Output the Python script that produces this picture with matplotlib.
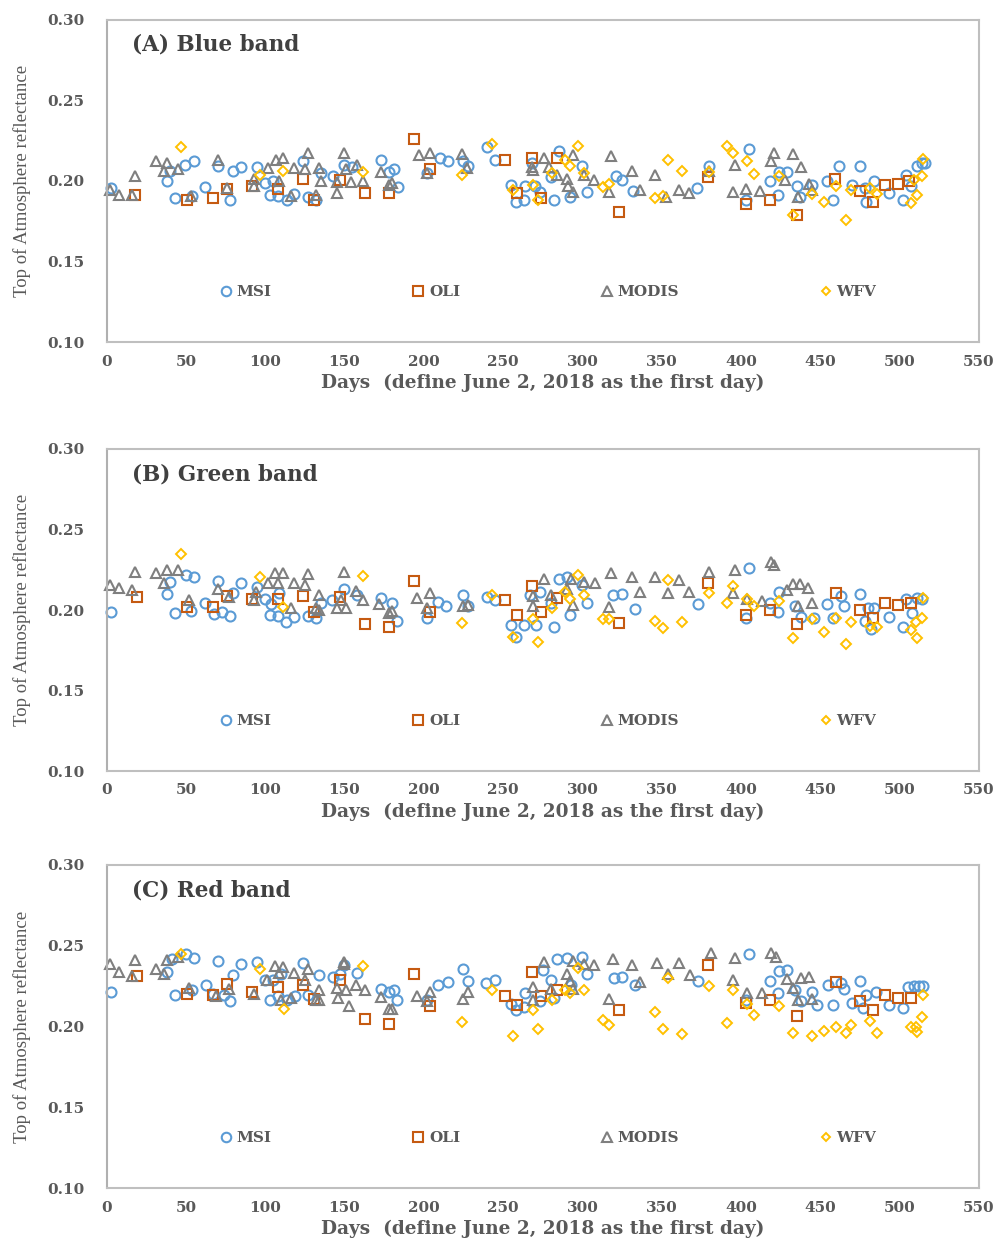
import matplotlib
matplotlib.use("Agg")
import matplotlib.pyplot as plt
from matplotlib.lines import Line2D

# ---------------- data: (day, TOA reflectance) ----------------
A_MSI = [(3,0.1955),(38,0.1996),(40,0.2058),(43,0.1893),(49.5,0.2099),(54,0.1903),(55,0.212),(62,0.1961),(70,0.2093),(78,0.1882),(80,0.2058),(85,0.2085),(95,0.2083),(100,0.1986),(103,0.1913),(105,0.1996),(108,0.1903),(114,0.1882),(118,0.1919),(124,0.212),(127,0.1899),(132,0.1882),(135,0.2048),(143,0.2031),(150,0.2099),(155,0.2083),(173,0.213),(178,0.2052),(181,0.2073),(184,0.1961),(202,0.2048),(210,0.2141),(215,0.2124),(225,0.212),(228,0.2089),(240,0.2207),(245,0.2126),(255,0.1971),(258,0.1871),(263,0.1882),(264,0.1965),(268,0.211),(270,0.1965),(273,0.1928),(280,0.2023),(282,0.1882),(285,0.2182),(292,0.1899),(300,0.2089),(303,0.1928),(321,0.2027),(325,0.2006),(332,0.1934),(372,0.1955),(380,0.2089),(403,0.1878),(405,0.2196),(418,0.2000),(423,0.1913),(424,0.2052),(429,0.2052),(435,0.1969),(437,0.1899),(445,0.1975),(454,0.1996),(458,0.1882),(462,0.2089),(470,0.1975),(475,0.2089),(478,0.1955),(479,0.1871),(484,0.1996),(493,0.1924),(502,0.1878),(504,0.2037),(507,0.1965),(511,0.2089),(514,0.2110),(516,0.2110)]
A_OLI = [(18,0.1911),(51,0.1882),(67,0.1893),(76,0.1950),(92,0.1965),(108,0.1950),(124,0.2011),(131,0.1882),(147,0.2006),(163,0.1924),(178,0.1924),(194,0.2256),(204,0.2074),(251,0.2126),(259,0.1924),(268,0.214),(274,0.1893),(284,0.2141),(323,0.1809),(379,0.2023),(403,0.1857),(418,0.1882),(435,0.1789),(459,0.2011),(475,0.1934),(483,0.1871),(491,0.1971),(499,0.1981),(506,0.1996)]
A_MODIS = [(2,0.1944),(8,0.1913),(16,0.191),(18,0.2027),(31,0.212),(36,0.2058),(38,0.211),(45,0.2074),(53,0.1907),(70,0.213),(76,0.1955),(93,0.1965),(93,0.2012),(102,0.2077),(107,0.213),(111,0.2144),(109,0.1996),(116,0.1906),(118,0.2077),(125,0.2074),(127,0.2171),(132,0.1913),(134,0.2077),(135,0.1996),(145,0.1924),(145,0.199),(150,0.2171),(151,0.2074),(154,0.199),(158,0.2095),(162,0.1996),(173,0.2052),(178,0.1975),(180,0.1986),(197,0.2161),(204,0.2171),(202,0.2051),(224,0.2167),(227,0.2078),(268,0.2085),(269,0.2066),(276,0.2141),(279,0.2087),(284,0.2038),(290,0.2012),(294,0.2161),(291,0.1965),(294,0.1928),(301,0.2038),(307,0.2005),(317,0.1928),(318,0.2151),(331,0.2058),(336,0.194),(346,0.2038),(353,0.1902),(361,0.194),(367,0.1924),(380,0.2058),(395,0.1928),(396,0.2095),(403,0.1948),(412,0.1934),(419,0.212),(421,0.2171),(428,0.2005),(433,0.2165),(436,0.1902),(438,0.2085),(443,0.1981),(445,0.1944)]
A_WFV = [(47,0.2207),(97,0.2037),(111,0.2058),(162,0.2052),(224,0.2037),(243,0.2227),(256,0.194),(269,0.1975),(272,0.1882),(281,0.2048),(289,0.2126),(292,0.2089),(297,0.2213),(301,0.2048),(313,0.1961),(317,0.1981),(346,0.1893),(351,0.1903),(354,0.2126),(363,0.2062),(380,0.2052),(391,0.2213),(395,0.2171),(404,0.212),(408,0.2041),(424,0.2027),(433,0.1789),(445,0.1919),(452,0.1871),(460,0.1965),(466,0.1757),(469,0.1944),(481,0.1955),(486,0.1919),(507,0.1864),(509,0.2006),(511,0.1913),(514,0.2031),(515,0.2134)]

B_MSI = [(3,0.1990),(38,0.2099),(40,0.2176),(43,0.1983),(50,0.2217),(53,0.1996),(55,0.2207),(62,0.2042),(68,0.1975),(70,0.2182),(73,0.1990),(78,0.1963),(80,0.2108),(85,0.2166),(95,0.2145),(100,0.2066),(103,0.1969),(104,0.2037),(109,0.2104),(108,0.1963),(113,0.1927),(118,0.1958),(127,0.1963),(132,0.1948),(135,0.2045),(142,0.2062),(150,0.2128),(158,0.2093),(173,0.2072),(180,0.2045),(183,0.1934),(202,0.1948),(209,0.2052),(214,0.2025),(225,0.2093),(228,0.2025),(240,0.2083),(245,0.2062),(255,0.1907),(258,0.1830),(263,0.1907),(267,0.2093),(271,0.1907),(273,0.2114),(280,0.2042),(282,0.1897),(285,0.2191),(290,0.2203),(292,0.1969),(300,0.2155),(303,0.2045),(319,0.2093),(325,0.2099),(333,0.2004),(373,0.2037),(403,0.1948),(405,0.2259),(418,0.2045),(423,0.1990),(424,0.2114),(434,0.2025),(438,0.1955),(446,0.1948),(454,0.2037),(458,0.1948),(463,0.2087),(465,0.2025),(475,0.2099),(478,0.1934),(480,0.2010),(482,0.1880),(484,0.2010),(493,0.1955),(502,0.1892),(504,0.2066),(508,0.1980),(511,0.2072),(514,0.2066)]
B_OLI = [(19,0.2079),(51,0.2017),(67,0.2021),(76,0.2087),(92,0.2068),(108,0.2068),(124,0.2089),(131,0.1990),(147,0.2083),(163,0.1911),(178,0.1897),(194,0.2180),(204,0.1990),(251,0.2062),(259,0.1969),(268,0.2149),(274,0.1990),(284,0.2072),(323,0.1921),(379,0.2170),(403,0.1969),(418,0.2000),(435,0.1911),(460,0.2108),(475,0.2000),(483,0.1948),(491,0.2042),(499,0.2031),(507,0.2042)]
B_MODIS = [(2,0.2155),(8,0.2135),(16,0.2124),(18,0.2238),(31,0.2228),(36,0.2170),(38,0.2248),(45,0.2248),(52,0.2062),(70,0.2128),(77,0.2083),(93,0.2062),(94,0.2114),(102,0.2170),(106,0.2232),(111,0.2228),(108,0.2166),(116,0.2010),(118,0.2166),(125,0.2155),(127,0.2222),(132,0.2010),(134,0.2000),(134,0.2093),(145,0.2010),(148,0.2062),(150,0.2238),(151,0.2010),(157,0.2118),(162,0.2062),(172,0.2037),(178,0.1983),(180,0.1995),(196,0.2072),(204,0.2103),(202,0.2010),(225,0.2025),(228,0.2031),(269,0.2087),(269,0.2025),(276,0.2191),(280,0.2093),(290,0.2128),(294,0.2031),(293,0.2191),(301,0.2176),(308,0.2166),(317,0.2017),(318,0.2228),(331,0.2207),(336,0.2114),(346,0.2207),(354,0.2107),(361,0.2186),(367,0.2114),(380,0.2238),(395,0.2107),(396,0.2248),(404,0.2066),(413,0.2058),(419,0.2300),(421,0.2280),(429,0.2124),(433,0.2161),(436,0.2025),(437,0.2161),(442,0.2135),(445,0.2042)]
B_WFV = [(47,0.2348),(97,0.2203),(111,0.2017),(162,0.2213),(224,0.1917),(243,0.2093),(256,0.1834),(269,0.1942),(272,0.1803),(281,0.2014),(289,0.2114),(292,0.2066),(297,0.2217),(301,0.2093),(313,0.1942),(317,0.1942),(346,0.1934),(351,0.1886),(354,0.2186),(363,0.1927),(380,0.2104),(391,0.2045),(395,0.2149),(404,0.2066),(408,0.2025),(424,0.2058),(433,0.1824),(445,0.1942),(452,0.1865),(460,0.1948),(466,0.1789),(469,0.1927),(481,0.1901),(486,0.1892),(507,0.1876),(510,0.1927),(511,0.1824),(514,0.1948),(515,0.2072)]

C_MSI = [(3,0.2212),(38,0.2336),(41,0.2419),(43,0.2192),(50,0.2446),(54,0.2229),(55,0.2425),(63,0.2260),(67,0.2204),(70,0.2404),(74,0.2192),(78,0.2157),(80,0.2316),(85,0.2390),(95,0.2398),(100,0.2287),(103,0.2167),(105,0.2291),(110,0.2322),(108,0.2188),(114,0.2163),(119,0.2188),(124,0.2394),(127,0.2192),(134,0.2316),(143,0.2308),(147,0.2322),(150,0.2378),(158,0.2332),(173,0.2233),(178,0.2212),(181,0.2225),(183,0.2161),(202,0.2167),(209,0.2260),(215,0.2274),(225,0.2359),(228,0.2281),(239,0.2271),(245,0.2291),(255,0.2142),(258,0.2105),(263,0.2122),(264,0.2209),(273,0.2157),(275,0.2349),(280,0.2291),(282,0.2178),(284,0.2415),(290,0.2425),(293,0.2254),(300,0.2432),(303,0.2322),(320,0.2302),(325,0.2308),(333,0.2260),(373,0.2281),(403,0.2167),(405,0.2446),(418,0.2281),(423,0.2209),(424,0.2342),(429,0.2349),(434,0.2229),(438,0.2157),(445,0.2212),(448,0.2136),(455,0.2254),(458,0.2136),(463,0.2271),(465,0.2233),(470,0.2147),(475,0.2281),(477,0.2116),(479,0.2198),(485,0.2212),(493,0.2136),(502,0.2116),(505,0.2246),(509,0.2250),(512,0.2250),(515,0.2250)]
C_OLI = [(19,0.2311),(51,0.2204),(67,0.2198),(76,0.2266),(92,0.2215),(108,0.2246),(124,0.2254),(131,0.2172),(147,0.2285),(163,0.2048),(178,0.2017),(194,0.2326),(204,0.2126),(251,0.2188),(259,0.2132),(268,0.2336),(274,0.2188),(284,0.2225),(323,0.2105),(379,0.2378),(403,0.2147),(418,0.2167),(435,0.2068),(460,0.2274),(475,0.2157),(483,0.2101),(491,0.2198),(499,0.2178),(507,0.2178)]
C_MODIS = [(2,0.2384),(8,0.2339),(16,0.2311),(18,0.2411),(31,0.2357),(36,0.2322),(38,0.2411),(45,0.2432),(52,0.2240),(69,0.2188),(77,0.2233),(93,0.2204),(101,0.2291),(106,0.2373),(111,0.2370),(109,0.2332),(110,0.2167),(116,0.2178),(118,0.2332),(125,0.2287),(127,0.2357),(132,0.2167),(134,0.2167),(134,0.2229),(145,0.2240),(146,0.2178),(150,0.2398),(150,0.2385),(151,0.2229),(153,0.2126),(157,0.2254),(163,0.2229),(173,0.2184),(178,0.2110),(180,0.2110),(196,0.2188),(204,0.2212),(202,0.2157),(225,0.2172),(228,0.2212),(269,0.2246),(269,0.2167),(276,0.2398),(280,0.2233),(290,0.2322),(292,0.2281),(294,0.2233),(294,0.2404),(301,0.2390),(307,0.2378),(317,0.2172),(319,0.2419),(331,0.2378),(336,0.2274),(347,0.2394),(354,0.2326),(361,0.2394),(368,0.2316),(381,0.2456),(395,0.2291),(396,0.2425),(404,0.2209),(413,0.2209),(419,0.2456),(422,0.2432),(429,0.2295),(433,0.2240),(436,0.2167),(438,0.2302),(443,0.2308),(445,0.2172)]
C_WFV = [(47,0.2446),(97,0.2353),(112,0.2110),(162,0.2373),(224,0.2027),(243,0.2229),(256,0.1944),(269,0.2105),(272,0.1986),(281,0.2167),(289,0.2225),(292,0.2209),(297,0.2363),(301,0.2225),(313,0.2043),(317,0.2012),(346,0.2089),(351,0.1986),(354,0.2302),(363,0.1955),(380,0.2250),(391,0.2019),(395,0.2225),(404,0.2142),(408,0.2074),(424,0.2130),(433,0.1961),(445,0.1944),(452,0.1971),(460,0.1998),(466,0.1957),(469,0.2012),(481,0.2033),(486,0.1957),(507,0.1998),(510,0.1998),(511,0.1965),(514,0.2060),(515,0.2192)]

PANEL_TITLES = ["(A) Blue band", "(B) Green band", "(C) Red band"]
SENSORS = ["MSI", "OLI", "MODIS", "WFV"]
X_TICKS = [0, 50, 100, 150, 200, 250, 300, 350, 400, 450, 500, 550]
Y_TICKS = [0.10, 0.15, 0.20, 0.25, 0.30]
X_LABEL = "Days  (define June 2, 2018 as the first day)"
Y_LABEL = "Top of Atmosphere reflectance"

PANELS = [
    [A_MSI, A_OLI, A_MODIS, A_WFV],
    [B_MSI, B_OLI, B_MODIS, B_WFV],
    [C_MSI, C_OLI, C_MODIS, C_WFV],
]

# ---------------- styles ----------------
STYLE = {
    "MSI":   dict(marker="o", color="#5B9BD5", ms=7.2, mew=1.5),
    "OLI":   dict(marker="s", color="#C55A11", ms=7.0, mew=1.5),
    "MODIS": dict(marker="^", color="#7F7F7F", ms=7.6, mew=1.5),
    "WFV":   dict(marker="D", color="#FFC000", ms=4.8, mew=1.4),
}
HFONT = "DejaVu Serif"
TXT = "#595959"

W, H = 998, 1239
fig = plt.figure(figsize=(W / 100, H / 100), dpi=100)
fig.patch.set_facecolor("white")

# axes boxes in pixels: (left, top, right, bottom)
boxes = [(106.5, 19.5, 979, 342), (106.5, 449, 979, 771), (106.5, 865, 979, 1188)]

for i, (l, t, r, b) in enumerate(boxes):
    ax = fig.add_axes([l / W, 1 - b / H, (r - l) / W, (b - t) / H])
    series = PANELS[i]
    handles = []
    for name, data in zip(SENSORS, series):
        st = STYLE[name]
        xs = [d[0] for d in data]
        ys = [d[1] for d in data]
        ax.plot(xs, ys, linestyle="none", marker=st["marker"], ms=st["ms"],
                mfc="none", mec=st["color"], mew=st["mew"], clip_on=False)
        handles.append(Line2D([], [], linestyle="none", marker=st["marker"],
                              ms=st["ms"] * 0.95, mfc="none", mec=st["color"],
                              mew=st["mew"]))
    ax.set_xlim(0, 550)
    ax.set_ylim(0.10, 0.30)
    ax.set_xticks(X_TICKS)
    ax.set_yticks(Y_TICKS)
    ax.set_xticklabels([str(v) for v in X_TICKS])
    ax.set_yticklabels(["%.2f" % v for v in Y_TICKS])
    ax.tick_params(axis="both", length=0, labelcolor=TXT)
    ax.tick_params(axis="x", pad=9)
    ax.tick_params(axis="y", pad=16)
    for lab in ax.get_xticklabels() + ax.get_yticklabels():
        lab.set_fontfamily(HFONT)
        lab.set_fontweight("bold")
        lab.set_fontsize(11)
    for sname, sp in ax.spines.items():
        sp.set_color("#BFBFBF")
        sp.set_linewidth(1.5)
    ax.spines["left"].set_color("#B0B0B0")

    ax.set_xlabel(X_LABEL, family=HFONT, weight="bold", fontsize=13.3, color=TXT, va="center")
    ax.xaxis.set_label_coords(0.5, -(41.0 / (b - t)))
    ax.set_ylabel(Y_LABEL, family="Liberation Serif", fontsize=13.5, color=TXT, va="center")
    ax.yaxis.set_label_coords(-(84.5 / (r - l)), 0.5)

    ax.text(0.029, 0.921, PANEL_TITLES[i], transform=ax.transAxes, family=HFONT,
            weight="bold", fontsize=15.5, color="#404040", ha="left", va="center")

    leg = ax.legend(handles, SENSORS, ncol=4, loc="center", bbox_to_anchor=(0.506, 0.155),
                    frameon=False, columnspacing=9.2, handlelength=0.8, handletextpad=0.3,
                    prop=dict(family=HFONT, weight="bold", size=11))
    for tx in leg.get_texts():
        tx.set_color(TXT)

fig.savefig("out.png", dpi=100, facecolor="white")
